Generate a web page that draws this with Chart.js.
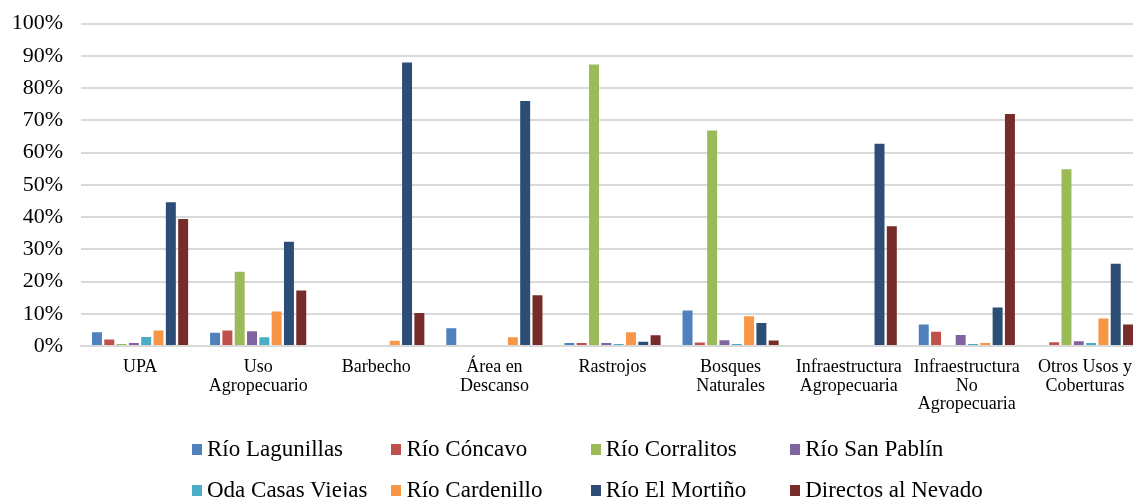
<!DOCTYPE html>
<html>
<head>
<meta charset="utf-8">
<script src="https://cdn.jsdelivr.net/npm/chart.js@4/dist/chart.umd.min.js"></script>
<style>
  html, body { margin: 0; padding: 0; background: #fff; overflow: hidden; width: 1133px; height: 497px; }
  #wrap { position: absolute; left: 0; top: 0; width: 1146px; height: 497px; }
  #legend { position: absolute; left: 192px; top: 435px; display: grid; grid-template-columns: repeat(4, 199.4px); grid-auto-rows: 28px; row-gap: 13px; font-family: "Liberation Serif", serif; font-size: 23px; color: #000; }
  .li { display: flex; align-items: center; white-space: nowrap; height: 28px; }
  .sw { width: 10px; height: 11px; margin-right: 5px; flex: none; }
</style>
</head>
<body>
<div id="wrap"><canvas id="c" width="1146" height="497"></canvas></div>
<div id="legend"></div>
<script>
const categories = ['UPA', ['Uso', 'Agropecuario'], 'Barbecho', ['Área en', 'Descanso'], 'Rastrojos', ['Bosques', 'Naturales'], ['Infraestructura', 'Agropecuaria'], ['Infraestructura', 'No', 'Agropecuaria'], ['Otros Usos y', 'Coberturas']];
const seriesNames = ['Río Lagunillas', 'Río Cóncavo', 'Río Corralitos', 'Río San Pablín', 'Qda Casas Viejas', 'Río Cardenillo', 'Río El Mortiño', 'Directos al Nevado'];
const seriesColors = ['#4F81BD', '#C0504D', '#9BBB59', '#8064A2', '#4BACC6', '#F79646', '#2C4D75', '#772C2A'];
const rioLagunillas   = [4.3, 4.1, 0, 5.5, 0.9, 11.0, 0, 6.7, 0.3];
const rioConcavo      = [2.0, 4.8, 0, 0, 0.9, 1.1, 0, 4.4, 1.2];
const rioCorralitos   = [0.6, 23.0, 0, 0, 87.3, 66.8, 0, 0, 54.8];
const rioSanPablin    = [0.9, 4.6, 0, 0, 0.9, 1.8, 0, 3.4, 1.5];
const qdaCasasViejas  = [2.8, 2.7, 0, 0, 0.6, 0.6, 0, 0.6, 0.9];
const rioCardenillo   = [4.8, 10.7, 1.6, 2.7, 4.3, 9.2, 0, 0.9, 8.5];
const rioElMortino    = [44.6, 32.3, 87.9, 76.0, 1.3, 7.1, 62.7, 11.9, 25.5];
const directosNevado  = [39.4, 17.2, 10.2, 15.7, 3.3, 1.7, 37.1, 71.9, 6.7];
const yTicks = [0, 10, 20, 30, 40, 50, 60, 70, 80, 90, 100];

const seriesValues = [rioLagunillas, rioConcavo, rioCorralitos, rioSanPablin, qdaCasasViejas, rioCardenillo, rioElMortino, directosNevado];
const FONT = '"Liberation Serif", serif';

const chart = new Chart(document.getElementById('c'), {
  type: 'bar',
  data: {
    labels: categories,
    datasets: seriesNames.map((n, i) => ({
      label: n,
      data: seriesValues[i],
      backgroundColor: seriesColors[i],
      borderWidth: 0,
      categoryPercentage: 0.834,
      barPercentage: 0.81
    }))
  },
  options: {
    responsive: false,
    animation: false,
    devicePixelRatio: 1,
    layout: { padding: { top: 21, right: 2, left: 0, bottom: 0 } },
    plugins: { legend: { display: false }, tooltip: { enabled: false } },
    scales: {
      x: {
        grid: { display: false, drawTicks: false },
        border: { display: true, color: '#D9D9D9', width: 2 },
        ticks: { color: '#000', font: { family: FONT, size: 18, lineHeight: 1.03 }, maxRotation: 0, minRotation: 0, autoSkip: false, padding: 12 },
        afterFit: s => { s.height = 151; }
      },
      y: {
        min: 0, max: 100,
        afterBuildTicks: s => { s.ticks = yTicks.map(v => ({ value: v })); },
        grid: { color: '#D9D9D9', lineWidth: 2, drawTicks: false },
        border: { display: false },
        ticks: { color: '#000', font: { family: FONT, size: 22, lineHeight: 0.5 }, padding: 18, callback: v => v + '%' },
        afterFit: s => { s.width = 81; }
      }
    }
  }
});

const lg = document.getElementById('legend');
chart.data.datasets.forEach(ds => {
  const d = document.createElement('div');
  d.className = 'li';
  const sw = document.createElement('span');
  sw.className = 'sw';
  sw.style.background = ds.backgroundColor;
  const t = document.createElement('span');
  t.textContent = ds.label;
  d.appendChild(sw); d.appendChild(t);
  lg.appendChild(d);
});
</script>
</body>
</html>
